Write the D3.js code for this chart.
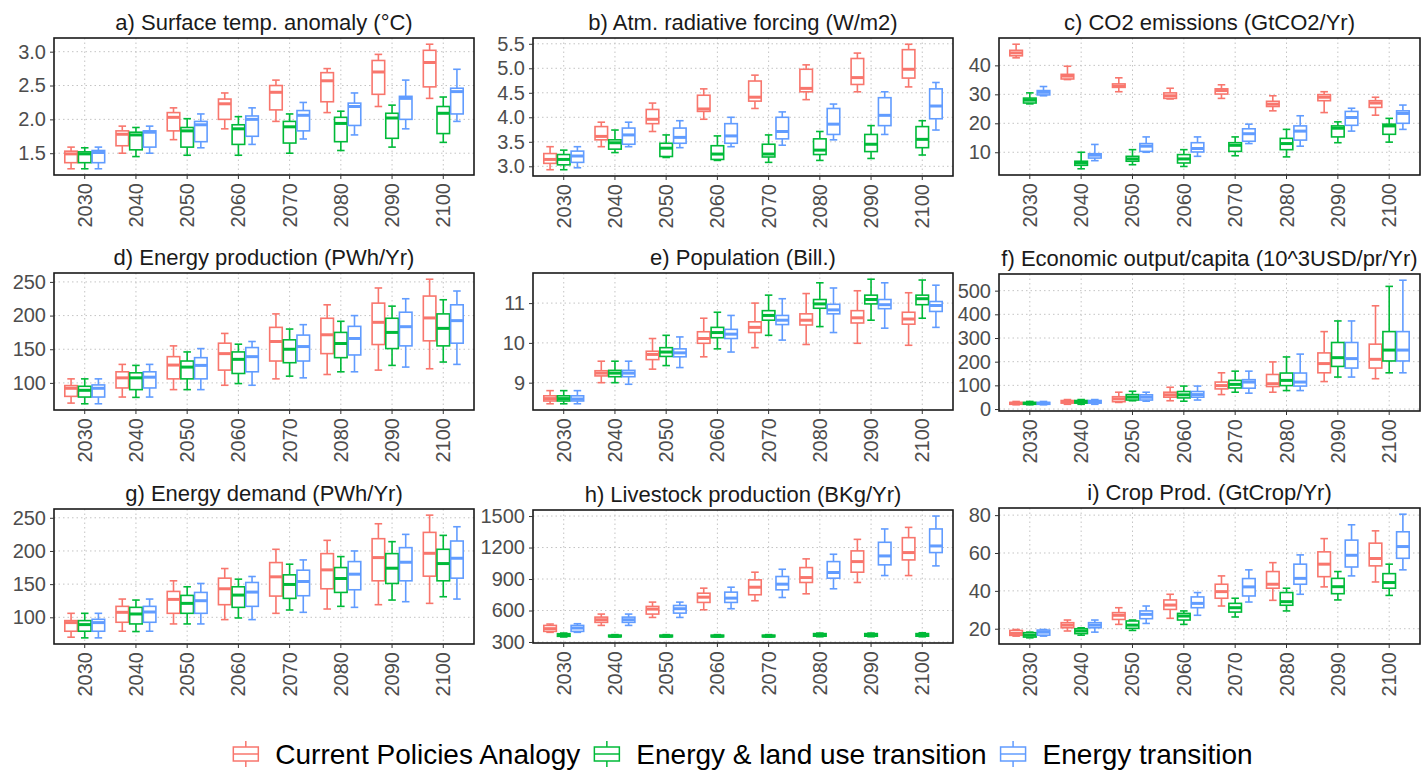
<!DOCTYPE html>
<html lang="en">
<head>
<meta charset="UTF-8">
<title>Scenario boxplots</title>
<script src="https://d3js.org/d3.v7.min.js"></script>
<style>
    body { margin: 0; background: #fff; }
    svg { font-family: "Liberation Sans", Arial, sans-serif; }
    .grid line { stroke: #c4c4c4; stroke-width: 1; stroke-dasharray: 1.5,3; }
    .axis text { fill: #4d4d4d; font-size: 20px; }
    .axis line { stroke: #333; }
    .axis path { display: none; }
    .title { font-size: 22px; fill: #1a1a1a; text-anchor: middle; }
    .legend text { font-size: 28px; fill: #000; }
</style>
</head>
<body>
<div id="chart"></div>
<script>
// categories
const years = ["2030", "2040", "2050", "2060", "2070", "2080", "2090", "2100"];
const scenarios = ["Current Policies Analogy", "Energy & land use transition", "Energy transition"];

// each row: [lower whisker, q1, median, q3, upper whisker] per year
const tempCPA = [[1.27,1.36,1.49,1.53,1.59],[1.50,1.61,1.78,1.83,1.90],[1.70,1.83,2.03,2.10,2.17],[1.86,2.00,2.23,2.30,2.39],[1.97,2.14,2.40,2.50,2.58],[2.10,2.26,2.57,2.69,2.75],[2.19,2.37,2.70,2.87,2.96],[2.31,2.48,2.84,3.02,3.11]];
const tempELT = [[1.27,1.36,1.49,1.52,1.58],[1.45,1.55,1.77,1.81,1.88],[1.47,1.59,1.83,1.88,2.01],[1.47,1.63,1.86,1.92,2.04],[1.50,1.65,1.89,1.97,2.08],[1.54,1.67,1.94,2.03,2.12],[1.59,1.72,2.02,2.09,2.21],[1.66,1.79,2.09,2.19,2.33]];
const tempET  = [[1.27,1.36,1.51,1.54,1.59],[1.50,1.59,1.81,1.83,1.90],[1.58,1.67,1.92,1.97,2.08],[1.63,1.75,2.00,2.05,2.17],[1.71,1.83,2.06,2.13,2.25],[1.77,1.91,2.19,2.24,2.39],[1.86,2.00,2.31,2.34,2.58],[1.97,2.08,2.41,2.46,2.74]];

const forcCPA = [[2.93,3.06,3.14,3.26,3.40],[3.40,3.54,3.61,3.81,3.90],[3.71,3.87,3.96,4.16,4.29],[3.96,4.12,4.17,4.45,4.58],[4.18,4.33,4.41,4.74,4.86],[4.36,4.52,4.59,4.98,5.07],[4.52,4.67,4.81,5.20,5.31],[4.62,4.80,4.98,5.38,5.49]];
const forcELT = [[2.93,3.03,3.14,3.24,3.33],[3.28,3.35,3.48,3.54,3.74],[3.18,3.20,3.37,3.47,3.64],[3.12,3.14,3.25,3.42,3.62],[3.08,3.19,3.25,3.45,3.64],[3.12,3.24,3.33,3.56,3.71],[3.16,3.30,3.45,3.65,3.83],[3.23,3.38,3.55,3.81,3.93]];
const forcET  = [[2.97,3.08,3.21,3.31,3.40],[3.40,3.45,3.64,3.78,3.90],[3.38,3.47,3.59,3.78,3.93],[3.40,3.47,3.62,3.87,4.00],[3.43,3.56,3.71,4.00,4.11],[3.54,3.65,3.86,4.18,4.27],[3.65,3.83,4.04,4.40,4.52],[3.74,3.97,4.23,4.58,4.71]];

const co2CPA = [[42.6,43.3,44.3,45.2,47.3],[35.1,35.3,36.3,36.9,39.7],[30.9,32.4,32.8,33.6,35.7],[28.4,28.6,29.5,30.5,32.1],[28.6,30.1,31.3,31.9,33.3],[24.3,25.8,26.6,27.6,29.5],[23.7,27.8,29.0,29.9,30.9],[22.8,25.5,27.0,27.8,29.0]];
const co2ELT = [[26.7,27.0,28.0,28.7,30.5],[4.3,5.5,6.3,6.9,10.0],[5.7,6.9,7.7,8.6,10.9],[5.1,6.3,7.7,9.2,10.9],[8.8,10.3,12.4,13.3,15.3],[8.4,10.9,13.0,14.8,17.9],[13.3,15.3,18.3,19.1,20.5],[13.5,16.2,19.1,19.7,21.7]];
const co2ET  = [[29.5,29.8,30.7,31.3,32.7],[7.1,8.0,9.0,9.5,12.7],[10.0,10.3,12.1,13.0,15.3],[8.6,10.1,11.3,13.3,15.3],[13.0,13.8,16.4,18.1,19.7],[12.1,14.2,17.3,19.1,22.6],[17.3,19.3,22.0,24.1,25.2],[17.9,20.0,23.4,24.3,26.3]];

const prodCPA = [[70,80,92,96,106],[79,92.5,107.5,116.5,127.5],[90,106,126.5,139,155],[96.5,119,143.5,159,173.5],[106,132.5,161.5,182.5,202.5],[112.5,143.5,171.5,196,216],[119,157,190,218.5,241],[121,162.5,196.5,229,254]];
const prodELT = [[69,79,89,95,106],[78.5,90,107.5,115,126],[90,106,123.5,132.5,146],[99,114,135,146,157.5],[110,130,150,164,180],[116.5,137.5,158.5,175,191.5],[126,151,175,196,214],[131,155,181,202.5,223.5]];
const prodET  = [[69,79,92,97,106],[79,92.5,108.5,116.5,127.5],[90,106,126,137.5,151],[96.5,116.5,139,152.5,161.5],[107.5,132.5,154,171,186.5],[116.5,141.5,166,184,200],[123.5,155,183.5,205,225],[127.5,159,192.5,216,236.5]];

const popCPA = [[8.47,8.54,8.60,8.67,8.80],[9.00,9.17,9.24,9.30,9.54],[9.34,9.58,9.71,9.79,10.11],[9.65,9.99,10.11,10.28,10.62],[9.88,10.26,10.39,10.53,11.00],[9.96,10.45,10.57,10.73,11.24],[9.99,10.50,10.63,10.81,11.31],[9.94,10.47,10.60,10.77,11.26]];
const popELT = [[8.47,8.54,8.60,8.67,8.80],[9.00,9.15,9.24,9.31,9.54],[9.43,9.66,9.77,9.88,10.19],[9.85,10.13,10.26,10.39,10.77],[10.19,10.57,10.69,10.81,11.20],[10.41,10.87,10.98,11.09,11.51],[10.57,10.98,11.09,11.20,11.60],[10.62,10.96,11.11,11.20,11.58]];
const popET  = [[8.47,8.54,8.59,8.67,8.80],[8.96,9.15,9.24,9.31,9.54],[9.38,9.65,9.75,9.85,10.15],[9.77,10.11,10.22,10.34,10.69],[10.07,10.46,10.57,10.69,11.11],[10.26,10.73,10.83,10.97,11.38],[10.37,10.86,10.96,11.09,11.51],[10.39,10.79,10.94,11.04,11.45]];

const gdpCPA = [[18,20,24,28,32],[20,25,30,36,40],[28,31,43,52,71],[35,50,60,71,92],[61,85,99,114,153],[71,95,107,146,199],[116,153,192,237,327],[128,173,210,274,436]];
const gdpELT = [[18,20,24,28,32],[20,25,30,36,40],[35,38,50,61,75],[33,47,60,74,97],[71,89,104,121,160],[78,99,121,152,220],[135,180,217,281,372],[153,203,249,327,518]];
const gdpET  = [[18,20,24,28,32],[20,25,30,36,40],[33,38,50,60,71],[38,50,61,74,97],[67,88,114,124,160],[78,97,114,152,232],[135,173,213,281,372],[153,203,249,327,544]];

const demCPA = [[70,79,92,95,106],[79,92.5,107.5,116.5,127.5],[90,106,127,139,155],[96.5,119,143,159,173.5],[106,132,161,182.5,202.5],[112.5,143,171.5,196,216],[119,155,190,218.5,241],[121,162,196.5,228,254]];
const demELT = [[69,79,89,95,106],[78.5,90,105,115,126],[90,106,121,133,146],[99,115,133.5,146,157.5],[111,128.5,149.5,164,180],[116.5,137.5,158.5,175,191.5],[126,151,174,196,214],[131,155,181,202.5,223.5]];
const demET  = [[69,79,92,97,106],[79,92.5,108,116.5,127.5],[90,106,125,137.5,151],[96.5,116.5,138,152.5,161.5],[107.5,132.5,154,171,186.5],[115,141.5,165,184,200],[123.5,155,183,205,225],[127.5,159,189,215,236.5]];

const liveCPA = [[392,401,427,458,471],[458,487,512,537,566],[534,566,613,639,680],[607,677,727,765,813],[693,750,822,892,965],[759,867,914,1009,1092],[867,965,1066,1168,1278],[933,1082,1152,1294,1392]];
const liveELT = [[348,354,363,379,385],[348,350,355,365,370],[348,350,355,365,370],[348,350,355,365,370],[348,350,355,365,370],[350,355,365,380,385],[350,355,365,380,385],[350,355,365,380,388]];
const liveET  = [[392,401,433,458,474],[458,487,512,537,566],[534,575,617,648,680],[617,677,718,775,822],[724,797,851,924,993],[807,908,962,1066,1136],[933,1035,1120,1250,1377],[1025,1152,1215,1377,1500]];

const cropCPA = [[16.1,16.5,17.5,19.1,19.6],[18.8,20.5,21.9,23.2,24.6],[22.3,24.9,27.1,28.5,31.1],[25.5,30.2,32.5,35.2,38.2],[32.0,36.1,39.6,43.5,47.9],[35.0,41.4,43.5,50.2,54.9],[42.1,47.5,54.1,60.6,67.6],[44.7,53.2,57.1,65.2,71.7]];
const cropELT = [[15.2,15.6,16.6,17.9,18.2],[16.6,17.4,18.8,20.0,20.5],[19.1,20.2,21.9,24.1,24.6],[22.3,24.6,26.7,28.1,29.4],[26.2,28.8,31.1,33.4,36.1],[29.4,32.4,34.3,39.1,41.4],[35.2,38.5,42.2,46.6,50.2],[37.6,41.4,44.4,49.1,54.1]];
const cropET  = [[16.1,16.6,18.2,19.3,19.6],[18.2,20.5,21.9,23.2,24.6],[22.8,25.3,27.6,29.4,32.0],[27.1,31.1,33.4,36.8,39.1],[34.1,37.3,42.1,46.5,51.1],[38.2,43.5,46.6,54.1,59.0],[47.9,52.6,58.8,66.8,74.9],[51.1,57.2,63.4,71.2,80.5]];

// panel titles and y tick labels
const titles = ["a) Surface temp. anomaly (\u00B0C)", "b) Atm. radiative forcing (W/m2)", "c) CO2 emissions (GtCO2/Yr)",
                "d) Energy production (PWh/Yr)", "e) Population (Bill.)", "f) Economic output/capita (10^3USD/pr/Yr)",
                "g) Energy demand (PWh/Yr)", "h) Livestock production (BKg/Yr)", "i) Crop Prod. (GtCrop/Yr)"];
const ticksTemp = [1.5, 2.0, 2.5, 3.0];
const ticksForc = [3.0, 3.5, 4.0, 4.5, 5.0, 5.5];
const ticksCo2  = [10, 20, 30, 40];
const ticksProd = [100, 150, 200, 250];
const ticksPop  = [9, 10, 11];
const ticksGdp  = [0, 100, 200, 300, 400, 500];
const ticksDem  = [100, 150, 200, 250];
const ticksLive = [300, 600, 900, 1200, 1500];
const ticksCrop = [20, 40, 60, 80];

const panels = [
    { series: [tempCPA, tempELT, tempET], ticks: ticksTemp, fmt: d3.format(".1f") },
    { series: [forcCPA, forcELT, forcET], ticks: ticksForc, fmt: d3.format(".1f") },
    { series: [co2CPA, co2ELT, co2ET],    ticks: ticksCo2,  fmt: d3.format("d") },
    { series: [prodCPA, prodELT, prodET], ticks: ticksProd, fmt: d3.format("d") },
    { series: [popCPA, popELT, popET],    ticks: ticksPop,  fmt: d3.format("d") },
    { series: [gdpCPA, gdpELT, gdpET],    ticks: ticksGdp,  fmt: d3.format("d") },
    { series: [demCPA, demELT, demET],    ticks: ticksDem,  fmt: d3.format("d") },
    { series: [liveCPA, liveELT, liveET], ticks: ticksLive, fmt: d3.format("d") },
    { series: [cropCPA, cropELT, cropET], ticks: ticksCrop, fmt: d3.format("d") }
];

// plot area of each panel: left, top, right, bottom
const frames = [
    [54, 38, 474, 175], [533, 38, 953, 176], [999, 38, 1420, 175],
    [54, 273, 474, 410], [533, 273, 953, 410], [999, 274, 1420, 411],
    [54, 509, 474, 644], [533, 510, 953, 643], [999, 508, 1420, 644]
];

const colour = d3.scaleOrdinal().domain(scenarios).range(["#F8766D", "#00BA38", "#619CFF"]);

const svg = d3.select("#chart").append("svg")
    .attr("width", 1427)
    .attr("height", 771);

panels.forEach((p, i) => {
    const [x0, y0, x1, y1] = frames[i];
    const g = svg.append("g");

    const x = d3.scaleBand().domain(years).range([x0, x1]).paddingInner(0).paddingOuter(0.1);
    const step = x.step();
    const xs = d3.scaleBand().domain(scenarios).range([-0.4 * step, 0.4 * step]);
    const boxW = xs.bandwidth() * 0.92;
    const capW = boxW * 0.6;

    const all = p.series.flat(2);
    const lo = d3.min(all), hi = d3.max(all), pad = (hi - lo) * 0.05;
    const y = d3.scaleLinear().domain([lo - pad, hi + pad]).range([y1, y0]);

    // grid
    const grid = g.append("g").attr("class", "grid");
    grid.selectAll(".gy").data(p.ticks).join("line")
        .attr("x1", x0).attr("x2", x1)
        .attr("y1", d => y(d)).attr("y2", d => y(d));
    grid.selectAll(".gx").data(years).join("line")
        .attr("x1", d => x(d) + step / 2).attr("x2", d => x(d) + step / 2)
        .attr("y1", y0).attr("y2", y1);

    // boxes
    p.series.forEach((rows, si) => {
        const col = colour(scenarios[si]);
        const sg = g.append("g").attr("stroke", col).attr("stroke-width", 1.6).attr("fill", "none");
        rows.forEach((r, yi) => {
            const cx = x(years[yi]) + step / 2 + xs(scenarios[si]) + xs.bandwidth() / 2;
            const [wl, q1, md, q3, wh] = r;
            sg.append("line").attr("x1", cx).attr("x2", cx).attr("y1", y(wh)).attr("y2", y(q3));
            sg.append("line").attr("x1", cx).attr("x2", cx).attr("y1", y(q1)).attr("y2", y(wl));
            sg.append("line").attr("x1", cx - capW / 2).attr("x2", cx + capW / 2).attr("y1", y(wh)).attr("y2", y(wh));
            sg.append("line").attr("x1", cx - capW / 2).attr("x2", cx + capW / 2).attr("y1", y(wl)).attr("y2", y(wl));
            sg.append("rect")
                .attr("x", cx - boxW / 2).attr("width", boxW)
                .attr("y", y(q3)).attr("height", Math.max(0.5, y(q1) - y(q3)))
                .attr("fill", "#fff");
            sg.append("line").attr("x1", cx - boxW / 2).attr("x2", cx + boxW / 2)
                .attr("y1", y(md)).attr("y2", y(md)).attr("stroke-width", 3);
        });
    });

    // border
    g.append("rect")
        .attr("x", x0).attr("y", y0)
        .attr("width", x1 - x0).attr("height", y1 - y0)
        .attr("fill", "none").attr("stroke", "#1a1a1a").attr("stroke-width", 1.6);

    // axes
    g.append("g")
        .attr("class", "axis")
        .attr("transform", `translate(${x0},0)`)
        .call(d3.axisLeft(y).tickValues(p.ticks).tickFormat(p.fmt).tickSize(4).tickPadding(4));

    g.append("g")
        .attr("class", "axis")
        .attr("transform", `translate(0,${y1})`)
        .call(d3.axisBottom(x).tickSize(4).tickPadding(4))
        .selectAll("text")
        .attr("transform", "rotate(-90)")
        .attr("text-anchor", "end")
        .attr("x", -8)
        .attr("y", 0)
        .attr("dy", "0.35em");

    // title
    g.append("text")
        .attr("class", "title")
        .attr("x", (x0 + x1) / 2)
        .attr("y", y0 - 8)
        .text(titles[i]);
});

// legend
const legend = svg.append("g").attr("class", "legend");
const keyW = 25, keyGap = 17, itemGap = 14, legY = 754;
let lx = 0;
scenarios.forEach(s => {
    const item = legend.append("g").attr("transform", `translate(${lx},0)`);
    const col = colour(s);
    const k = item.append("g").attr("stroke", col).attr("stroke-width", 1.5).attr("fill", "none");
    k.append("line").attr("x1", keyW / 2).attr("x2", keyW / 2).attr("y1", legY - 13).attr("y2", legY + 13);
    k.append("rect").attr("x", 0).attr("y", legY - 7).attr("width", keyW).attr("height", 14).attr("fill", "#fff");
    k.append("line").attr("x1", 0).attr("x2", keyW).attr("y1", legY).attr("y2", legY);
    const t = item.append("text")
        .attr("x", keyW + keyGap)
        .attr("y", legY)
        .attr("dy", "0.35em")
        .text(s);
    lx += keyW + keyGap + t.node().getComputedTextLength() + itemGap;
});
const legWidth = lx - itemGap;
legend.attr("transform", `translate(${743 - legWidth / 2},0)`);
</script>
</body>
</html>
